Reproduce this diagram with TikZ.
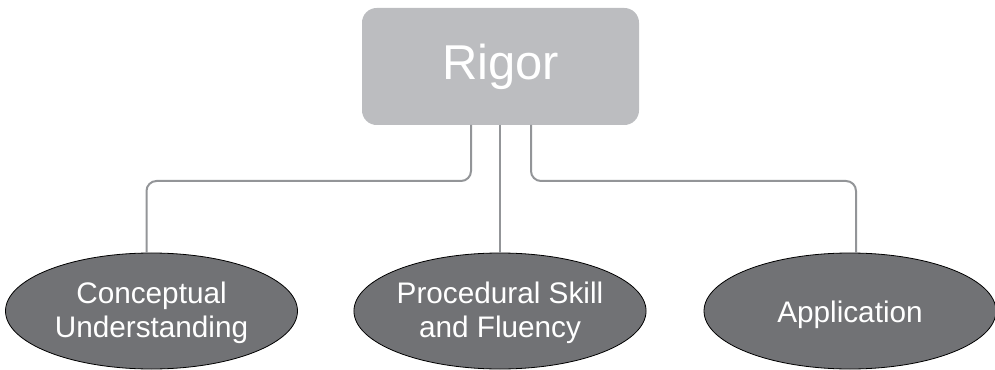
\documentclass[tikz,border=0pt]{standalone}
\usepackage{fontspec}
\setmainfont{Liberation Sans}
\usetikzlibrary{shapes.geometric}
\definecolor{boxgray}{HTML}{BCBDC0}
\definecolor{ellgray}{HTML}{717275}
\definecolor{linegray}{HTML}{939598}
\tikzset{
  topbox/.style={draw=none, fill=boxgray, rounded corners=11pt, minimum width=207.75pt, minimum height=87.75pt, inner sep=0pt, text=white, font=\fontsize{36.7}{40}\selectfont},
  leaf/.style={ellipse, draw=black, line width=0.6pt, fill=ellgray, minimum width=219pt, minimum height=87pt, inner sep=0pt, text=white, align=center, font=\fontsize{22.3}{26}\selectfont},
  conn/.style={draw=linegray, line width=1.5pt, rounded corners=7.5pt}
}
\begin{document}
\begin{tikzpicture}[x=0.75pt,y=-0.75pt]
\useasboundingbox (0,0) rectangle (995,370);
\node[topbox] (rigor) at (500.5,66.5) {Rigor};
\node[leaf] (c1) at (151.5,311) {\raisebox{-2pt}[\height][\depth]{\begin{tabular}{@{}c@{}}Conceptual\\[-1pt]Understanding\end{tabular}}};
\node[leaf] (c2) at (500,311) {\raisebox{-2pt}[\height][\depth]{\begin{tabular}{@{}c@{}}Procedural Skill\\[-1pt]and Fluency\end{tabular}}};
\node[leaf] (c3) at (850,311) {\raisebox{-3pt}[\height][\depth]{Application}};
\coordinate (s1) at (471,125);
\coordinate (s2) at (500,125);
\coordinate (s3) at (531,125);
\coordinate (e1) at (146.5,253);
\coordinate (e3) at (856,253);
\draw[conn] (s1) -- (471,181) -| (e1);
\draw[conn] (s2) -- (c2.north);
\draw[conn] (s3) -- (531,181) -| (e3);
\end{tikzpicture}
\end{document}
